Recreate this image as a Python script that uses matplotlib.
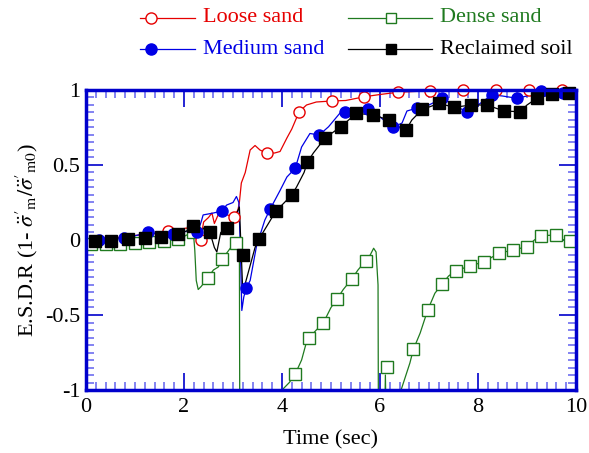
import matplotlib
matplotlib.use("Agg")
import matplotlib.pyplot as plt
from matplotlib.lines import Line2D
from matplotlib.ticker import MultipleLocator

plt.rcParams['font.family'] = ['Liberation Serif', 'DejaVu Serif']
plt.rcParams['mathtext.fontset'] = 'stix'
plt.rcParams['axes.unicode_minus'] = False

# ---------------- data ----------------
loose_t = [0.0, 0.5, 1.0, 1.5, 1.68, 1.9, 2.05, 2.2, 2.34, 2.4, 2.5, 2.57, 2.62, 2.7, 2.85, 3.02, 3.1,
           3.13, 3.17, 3.25, 3.35, 3.45, 3.55, 3.69, 3.85, 3.96, 4.1, 4.2, 4.35, 4.5, 4.7, 5.03, 5.3,
           5.68, 6.0, 6.36, 7.02, 7.69, 8.37, 9.04, 9.71, 10.0]
loose_v = [-0.01, 0.01, 0.03, 0.045, 0.06, 0.07, 0.08, 0.03, 0.0, 0.12, 0.15, 0.18, 0.11, 0.17, 0.17, 0.155, 0.2,
           0.25, 0.38, 0.45, 0.6, 0.63, 0.6, 0.578, 0.58, 0.59, 0.68, 0.74, 0.855, 0.9, 0.92, 0.927, 0.93,
           0.955, 0.97, 0.985, 0.995, 0.997, 1.0, 1.0, 1.0, 1.0]
loose_mt = [1.68, 2.34, 3.02, 3.69, 4.35, 5.03, 5.68, 6.36, 7.02, 7.69, 8.37, 9.04, 9.71]
loose_mv = [0.062, 0.0, 0.155, 0.578, 0.855, 0.927, 0.955, 0.985, 0.995, 0.997, 1.0, 1.0, 1.0]

medium_t = [0.0, 0.27, 0.77, 1.27, 1.5, 1.77, 2.1, 2.27, 2.35, 2.39, 2.6, 2.77, 2.87, 3.0, 3.07, 3.12,
            3.15, 3.18, 3.22, 3.27, 3.35, 3.48, 3.65, 3.755, 3.96, 4.1, 4.27, 4.4, 4.57, 4.76, 4.95, 5.18,
            5.29, 5.5, 5.76, 6.0, 6.26, 6.45, 6.55, 6.76, 7.0, 7.27, 7.5, 7.77, 8.0, 8.28, 8.5, 8.79,
            9.0, 9.28, 9.5, 9.74, 10.0]
medium_v = [-0.01, 0.0, 0.01, 0.05, 0.04, 0.04, 0.06, 0.05, 0.12, 0.167, 0.18, 0.193, 0.233, 0.25, 0.29, 0.25,
            -0.05, -0.47, -0.38, -0.32, -0.27, -0.04, 0.133, 0.204, 0.33, 0.42, 0.478, 0.62, 0.71, 0.70, 0.755, 0.845,
            0.85, 0.86, 0.87, 0.82, 0.75, 0.78, 0.86, 0.88, 0.90, 0.945, 0.90, 0.855, 0.90, 0.967, 0.96, 0.945,
            0.96, 0.99, 0.98, 0.98, 0.99]
medium_mt = [0.27, 0.77, 1.27, 1.77, 2.27, 2.77, 3.27, 3.755, 4.27, 4.76, 5.29, 5.76, 6.26, 6.76,
             7.27, 7.77, 8.28, 8.79, 9.28, 9.74]
medium_mv = [0.0, 0.01, 0.05, 0.04, 0.05, 0.193, -0.32, 0.204, 0.478, 0.70, 0.85, 0.87, 0.75, 0.88,
             0.945, 0.855, 0.967, 0.945, 0.99, 0.98]

dense_t = [0.0, 0.5, 1.0, 1.5, 1.88, 2.1, 2.19, 2.22, 2.25, 2.29, 2.35, 2.48, 2.6, 2.7, 2.78, 2.97, 3.07,
           3.13, 3.14, 3.98, 4.03, 4.15, 4.27, 4.4, 4.5, 4.56, 4.7, 4.84, 5.0, 5.12, 5.25, 5.42, 5.55,
           5.71, 5.8, 5.87, 5.92, 5.96, 5.97, 6.08, 6.11, 6.14, 6.38, 6.43, 6.61, 6.68, 6.82, 6.97,
           7.12, 7.27, 7.4, 7.55, 7.84, 8.13, 8.42, 8.71, 9.01, 9.15, 9.29, 9.59, 9.75, 9.88, 10.0]
dense_v = [-0.03, -0.03, -0.02, -0.01, 0.005, 0.04, 0.055, -0.067, -0.27, -0.33, -0.31, -0.255, -0.2, -0.18,
           -0.127, -0.044, -0.022, 0.0, -1.5, -1.5, -0.99, -0.95, -0.893, -0.8, -0.68, -0.65, -0.6, -0.555,
           -0.45, -0.395, -0.33, -0.262, -0.2, -0.138, -0.1, -0.055, -0.08, -0.3, -1.5, -1.5, -0.9, -1.5,
           -1.5, -1.0, -0.82, -0.73, -0.62, -0.47, -0.355, -0.293, -0.24, -0.204, -0.173, -0.144, -0.089,
           -0.067, -0.044, 0.0, 0.029, 0.033, 0.0, -0.005, -0.01]
dense_mt = [0.11, 0.41, 0.70, 1.00, 1.29, 1.59, 1.88, 2.19, 2.48, 2.78, 3.07, 4.27, 4.56, 4.84, 5.12,
            5.42, 5.71, 6.15, 6.68, 6.97, 7.27, 7.55, 7.84, 8.13, 8.42, 8.71, 9.01, 9.29, 9.59, 9.88]
dense_mv = [-0.03, -0.03, -0.025, -0.02, -0.015, -0.01, 0.005, 0.055, -0.255, -0.127, -0.022, -0.893, -0.65,
            -0.555, -0.395, -0.262, -0.138, -0.845, -0.73, -0.47, -0.293, -0.204, -0.173, -0.144, -0.089,
            -0.067, -0.044, 0.029, 0.033, -0.005]

recl_t = [0.0, 0.18, 0.52, 0.86, 1.2, 1.53, 1.87, 2.05, 2.19, 2.3, 2.4, 2.53, 2.62, 2.67, 2.75, 2.87,
          3.0, 3.13, 3.17, 3.2, 3.3, 3.45, 3.53, 3.76, 3.87, 4.05, 4.2, 4.3, 4.45, 4.52, 4.64, 4.88,
          5.05, 5.2, 5.52, 5.86, 6.19, 6.35, 6.53, 6.65, 6.86, 7.2, 7.52, 7.86, 8.18, 8.53, 8.86, 9.0,
          9.2, 9.52, 9.86, 10.0]
recl_v = [-0.01, -0.01, -0.005, 0.005, 0.016, 0.02, 0.04, 0.06, 0.09, 0.0, 0.08, 0.05, -0.05, -0.08, 0.05, 0.08,
          0.12, 0.22, -0.1, -0.35, -0.23, -0.05, 0.006, 0.13, 0.19, 0.25, 0.30, 0.355, 0.45, 0.52, 0.58, 0.68,
          0.72, 0.755, 0.845, 0.833, 0.80, 0.76, 0.733, 0.80, 0.87, 0.91, 0.885, 0.90, 0.90, 0.86, 0.855, 0.90,
          0.945, 0.973, 0.98, 0.98]
recl_mt = [0.18, 0.52, 0.86, 1.20, 1.53, 1.87, 2.19, 2.53, 2.87, 3.20, 3.53, 3.87, 4.20, 4.52, 4.88,
           5.20, 5.52, 5.86, 6.19, 6.53, 6.86, 7.20, 7.52, 7.86, 8.18, 8.53, 8.86, 9.20, 9.52, 9.86]
recl_mv = [-0.01, -0.005, 0.005, 0.016, 0.02, 0.04, 0.09, 0.05, 0.08, -0.10, 0.006, 0.19, 0.30, 0.52, 0.68,
           0.755, 0.845, 0.833, 0.80, 0.733, 0.87, 0.91, 0.885, 0.90, 0.90, 0.86, 0.855, 0.945, 0.973, 0.98]

labels = ["Loose sand", "Medium sand", "Dense sand", "Reclaimed soil"]
x_ticks = [0, 2, 4, 6, 8, 10]
y_ticks = [-1, -0.5, 0, 0.5, 1]
y_ticklabels = ["-1", "-0.5", "0", "0.5", "1"]

RED = "#e60000"
BLUE = "#0000e6"
GREEN = "#1f7a1f"
BLACK = "#000000"
AXC = "#0000cc"

fig = plt.figure(figsize=(5.89, 4.53), dpi=100)
W, H = 589, 453
ax = fig.add_axes([86 / W, 1 - 390 / H, (576 - 86) / W, (390 - 90) / H])

lw = 0.9
ms = 8
# lines
ax.plot(dense_t, dense_v, color=GREEN, lw=lw, zorder=2)
ax.plot(loose_t, loose_v, color=RED, lw=lw, zorder=3)
ax.plot(medium_t, medium_v, color=BLUE, lw=lw, zorder=3)
ax.plot(recl_t, recl_v, color=BLACK, lw=lw, zorder=3)
# markers
ax.plot(dense_mt, dense_mv, ls='none', marker='s', ms=ms, mfc='white', mec=GREEN, mew=1.0, zorder=4)
ax.plot(loose_mt, loose_mv, ls='none', marker='o', ms=ms, mfc='white', mec=RED, mew=1.0, zorder=5, clip_on=False)
ax.plot(medium_mt, medium_mv, ls='none', marker='o', ms=ms, mfc=BLUE, mec=BLUE, zorder=5, clip_on=False)
ax.plot(recl_mt, recl_mv, ls='none', marker='s', ms=ms, mfc=BLACK, mec=BLACK, zorder=6, clip_on=False)

ax.set_xlim(0, 10)
ax.set_ylim(-1, 1)
ax.set_xticks(x_ticks)
ax.set_xticklabels([str(v) for v in x_ticks])
ax.set_yticks(y_ticks)
ax.set_yticklabels(y_ticklabels)
ax.xaxis.set_minor_locator(MultipleLocator(0.2))
ax.yaxis.set_minor_locator(MultipleLocator(0.05))
ax.tick_params(which='both', direction='in', top=True, right=True, labelsize=16,
               labelcolor='black')
ax.tick_params(axis='x', which='both', pad=6)
ax.tick_params(axis='y', which='both', pad=4)
ax.tick_params(which='major', length=12, width=1.2, color=AXC)
ax.tick_params(which='minor', length=6, width=1.2, color='#6e6ef0')
for s in ax.spines.values():
    s.set_color(AXC)
    s.set_linewidth(2.5)
    s.set_zorder(7)

ax.set_xlabel("Time (sec)", fontsize=16, labelpad=9)
ax.set_ylabel(r"E.S.D.R (1- $\ddot{\sigma}'_{\rm m}/\ddot{\sigma}'_{\rm m0}$)", fontsize=16, labelpad=4)

# legend drawn manually in figure pixels
def fx(px):
    return px / W

def fy(py):
    return 1 - py / H

entries = [
    (labels[0], RED, 'o', 'white', 140, 195, 151, 203, 18),
    (labels[1], BLUE, 'o', BLUE, 140, 195, 151, 203, 49),
    (labels[2], GREEN, 's', 'white', 348, 432, 391, 440, 18),
    (labels[3], BLACK, 's', BLACK, 348, 432, 391, 440, 49),
]
for lab, col, mk, fc, x0, x1, xm, xt, yy in entries:
    fig.add_artist(Line2D([fx(x0), fx(x1)], [fy(yy), fy(yy)], color=col, lw=lw,
                          transform=fig.transFigure))
    fig.add_artist(Line2D([fx(xm)], [fy(yy)], color=col, marker=mk, ms=7 if mk == 's' else 8,
                          mfc=fc, mec=col, transform=fig.transFigure))
    fig.text(fx(xt), fy(yy), lab, color=col, fontsize=16, va='center', ha='left')

fig.savefig("out.png", dpi=100)
